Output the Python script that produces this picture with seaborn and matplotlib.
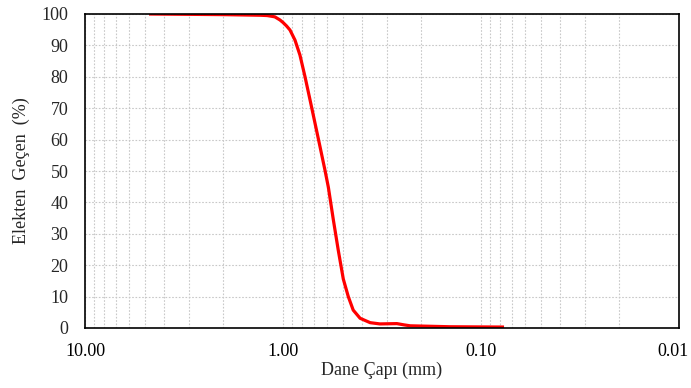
import matplotlib
matplotlib.use("Agg")
import matplotlib.pyplot as plt
import matplotlib.transforms as mtransforms
import seaborn as sns
import pandas as pd
from matplotlib.ticker import FixedLocator, LogLocator, NullFormatter, FixedFormatter

diameter_mm = [4.75, 2.0, 1.3, 1.2, 1.1, 1.036, 1.0, 0.96, 0.922, 0.87, 0.821, 0.774, 0.73,
               0.689, 0.65, 0.614, 0.59, 0.557, 0.526, 0.496, 0.468, 0.442, 0.408, 0.363,
               0.324, 0.266, 0.245, 0.228, 0.1435, 0.0765]
passing_pct = [100.0, 99.8, 99.6, 99.5, 99.1, 98.1, 97.3, 96.2, 94.9, 91.7, 86.9, 80.0, 72.6,
               65.2, 57.7, 50.3, 44.8, 34.5, 24.8, 15.6, 10.0, 5.7, 3.1, 1.7,
               1.3, 1.4, 1.0, 0.7, 0.4, 0.3]
x_ticks = [10.0, 1.0, 0.1, 0.01]
x_tick_labels = ["10.00", "1.00", "0.10", "0.01"]
y_ticks = list(range(0, 101, 10))

df = pd.DataFrame({"d": diameter_mm, "p": passing_pct})

sns.set_style("white")
plt.rcParams["font.family"] = ["Liberation Serif", "DejaVu Serif"]

fig = plt.figure(figsize=(6.91, 3.88), dpi=100)
ax = fig.add_axes([85/691, 1-328/388, (679-85)/691, (328-14)/388])

sns.lineplot(data=df, x="d", y="p", ax=ax, color="#ff0000", linewidth=2.3,
             sort=False, estimator=None)
for l in ax.lines:
    l.set_solid_joinstyle("round")
    l.set_solid_capstyle("butt")

ax.set_xscale("log")
ax.set_xlim(10, 0.01)
ax.set_ylim(0, 100)

ax.xaxis.set_major_locator(FixedLocator(x_ticks))
ax.xaxis.set_major_formatter(FixedFormatter(x_tick_labels))
ax.xaxis.set_minor_locator(LogLocator(base=10, subs=range(2, 10)))
ax.xaxis.set_minor_formatter(NullFormatter())
ax.set_yticks(y_ticks)

ax.grid(True, which="both", axis="both", color="#c8c8c8", linestyle=(0, (1.5, 1.5)), linewidth=0.8)
ax.set_axisbelow(True)

for s in ax.spines.values():
    s.set_visible(True)
    s.set_color("black")
    s.set_linewidth(1.2)

ax.tick_params(axis="x", which="major", direction="out", length=5, width=1, colors="black",
               labelsize=13, pad=6)
ax.tick_params(axis="x", which="minor", length=0)
ax.tick_params(axis="y", which="both", length=0, labelsize=13, pad=12)

ax.set_xlabel("Dane Çapı (mm)", fontsize=13, labelpad=1)
ax.set_ylabel("Elekten  Geçen  (%)", fontsize=13, labelpad=8)

fig.canvas.draw()
last = ax.get_xticklabels()[-1]
last.set_horizontalalignment("right")
last.set_transform(last.get_transform() + mtransforms.ScaledTranslation(10/100, 0, fig.dpi_scale_trans))

fig.savefig("out.png", dpi=100)
